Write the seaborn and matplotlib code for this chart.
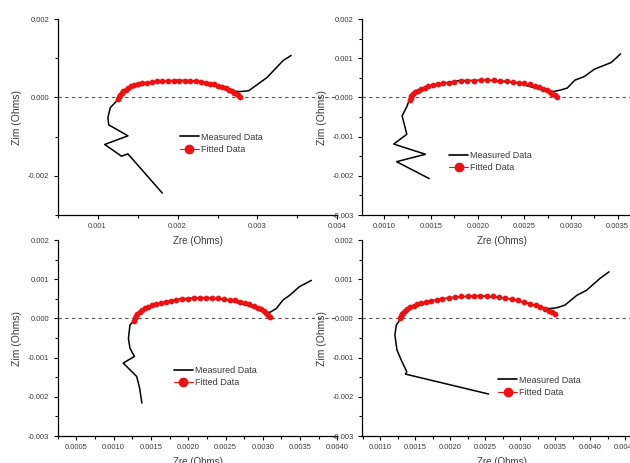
import numpy as np
import pandas as pd
import matplotlib
matplotlib.use("Agg")
import matplotlib.pyplot as plt
from matplotlib.lines import Line2D
from matplotlib.ticker import MultipleLocator, FormatStrFormatter
import seaborn as sns

# values, in units of 1e-3 Ohm
# top left
tl_meas_x = [3.42, 3.32, 3.12, 2.89, 2.79, 2.70, 2.60, 2.45, 2.25, 2.00, 1.75, 1.55,
             1.42, 1.33, 1.27, 1.24, 1.16, 1.13, 1.14, 1.38, 1.09, 1.30, 1.38, 1.81]
tl_meas_y = [1.07, 0.94, 0.51, 0.17, 0.15, 0.16, 0.23, 0.34, 0.42, 0.44, 0.41, 0.34,
             0.26, 0.16, 0.05, -0.09, -0.26, -0.51, -0.70, -0.98, -1.20, -1.50, -1.44, -2.44]
tl_fit_x = [1.26, 1.27, 1.28, 1.30, 1.32, 1.35, 1.38, 1.42, 1.46, 1.51, 1.56, 1.62,
            1.68, 1.74, 1.81, 1.88, 1.95, 2.02, 2.09, 2.16, 2.23, 2.29, 2.35, 2.41,
            2.46, 2.51, 2.56, 2.60, 2.64, 2.68, 2.71, 2.74, 2.76, 2.78]
tl_fit_y = [-0.04, 0.01, 0.06, 0.11, 0.16, 0.20, 0.24, 0.28, 0.31, 0.34, 0.36, 0.38,
            0.40, 0.41, 0.42, 0.43, 0.43, 0.43, 0.43, 0.42, 0.41, 0.39, 0.37, 0.35,
            0.33, 0.30, 0.27, 0.24, 0.20, 0.16, 0.12, 0.08, 0.05, 0.02]

# top right
tr_meas_x = [3.53, 3.43, 3.25, 3.14, 3.04, 2.96, 2.89, 2.81, 2.72, 2.60, 2.40, 2.10,
             1.80, 1.55, 1.40, 1.32, 1.27, 1.24, 1.19, 1.24, 1.10, 1.44, 1.13, 1.48]
tr_meas_y = [1.11, 0.89, 0.72, 0.53, 0.44, 0.24, 0.19, 0.15, 0.17, 0.25, 0.38, 0.44,
             0.43, 0.33, 0.22, 0.10, -0.04, -0.24, -0.47, -0.94, -1.19, -1.45, -1.64, -2.07]
tr_fit_x = [1.27, 1.28, 1.29, 1.31, 1.33, 1.36, 1.39, 1.43, 1.47, 1.52, 1.57, 1.63,
            1.69, 1.75, 1.82, 1.89, 1.96, 2.03, 2.10, 2.17, 2.24, 2.31, 2.38, 2.44,
            2.50, 2.56, 2.61, 2.66, 2.70, 2.74, 2.77, 2.80, 2.83, 2.85]
tr_fit_y = [-0.07, -0.02, 0.03, 0.08, 0.13, 0.17, 0.21, 0.25, 0.28, 0.31, 0.34, 0.36,
            0.38, 0.40, 0.41, 0.42, 0.43, 0.44, 0.44, 0.44, 0.43, 0.42, 0.40, 0.38,
            0.36, 0.33, 0.30, 0.26, 0.22, 0.18, 0.14, 0.10, 0.06, 0.02]

# bottom left
bl_meas_x = [3.65, 3.49, 3.36, 3.27, 3.18, 3.09, 3.00, 2.80, 2.50, 2.20, 1.90, 1.60,
             1.42, 1.32, 1.26, 1.22, 1.20, 1.22, 1.28, 1.13, 1.31, 1.35, 1.38]
bl_meas_y = [0.97, 0.81, 0.59, 0.47, 0.25, 0.15, 0.18, 0.33, 0.48, 0.53, 0.50, 0.37,
             0.25, 0.10, -0.08, -0.17, -0.51, -0.76, -0.97, -1.14, -1.48, -1.78, -2.16]
bl_fit_x = [1.28, 1.29, 1.30, 1.32, 1.35, 1.38, 1.42, 1.46, 1.51, 1.57, 1.63, 1.70,
            1.77, 1.84, 1.92, 2.00, 2.08, 2.16, 2.24, 2.32, 2.40, 2.48, 2.56, 2.63,
            2.70, 2.76, 2.82, 2.88, 2.93, 2.97, 3.01, 3.04, 3.07, 3.09]
bl_fit_y = [-0.06, 0.00, 0.06, 0.11, 0.16, 0.21, 0.26, 0.30, 0.34, 0.37, 0.40, 0.43,
            0.45, 0.47, 0.49, 0.50, 0.51, 0.52, 0.52, 0.52, 0.51, 0.50, 0.48, 0.46,
            0.43, 0.40, 0.36, 0.32, 0.27, 0.23, 0.18, 0.13, 0.08, 0.04]

# bottom right
br_meas_x = [4.27, 4.14, 3.95, 3.81, 3.64, 3.52, 3.42, 3.30, 3.10, 2.80, 2.40, 2.00,
             1.70, 1.48, 1.37, 1.30, 1.28, 1.23, 1.21, 1.24, 1.31, 1.38, 1.36, 2.55]
br_meas_y = [1.19, 1.02, 0.72, 0.59, 0.34, 0.27, 0.25, 0.28, 0.39, 0.52, 0.58, 0.53,
             0.44, 0.33, 0.23, 0.12, -0.04, -0.17, -0.42, -0.81, -1.10, -1.36, -1.42, -1.93]
br_fit_x = [1.29, 1.30, 1.31, 1.33, 1.36, 1.39, 1.43, 1.48, 1.53, 1.59, 1.66, 1.73,
            1.81, 1.89, 1.98, 2.07, 2.16, 2.25, 2.34, 2.43, 2.52, 2.61, 2.70, 2.79,
            2.88, 2.97, 3.06, 3.14, 3.22, 3.29, 3.35, 3.41, 3.46, 3.50]
br_fit_y = [0.00, 0.05, 0.10, 0.15, 0.20, 0.24, 0.28, 0.32, 0.36, 0.39, 0.42, 0.45,
            0.47, 0.50, 0.52, 0.54, 0.56, 0.57, 0.58, 0.58, 0.57, 0.56, 0.54, 0.52,
            0.49, 0.46, 0.42, 0.38, 0.34, 0.29, 0.25, 0.20, 0.16, 0.12]

labels = ["Measured Data", "Fitted Data"]
xlabel = "Zre (Ohms)"
ylabel = "Zim (Ohms)"

sns.set_style("ticks")
plt.rcParams['font.family'] = ['Liberation Sans', 'DejaVu Sans']

RED = '#ee1111'
GREY = '#3a3a3a'

# layout per panel: axes box, x limits, tick steps, formats, legend anchor
panels = [
    (tl_meas_x, tl_meas_y, tl_fit_x, tl_fit_y,
     [0.0913, 0.5356, 0.4444, 0.4233], (0.0005, 0.004), 0.001, 0.0005, '%.3f', 0.002, 0.001, (0.4375, 0.367)),
    (tr_meas_x, tr_meas_y, tr_fit_x, tr_fit_y,
     [0.5746, 0.5356, 0.4444, 0.4233], (0.00076, 0.00376), 0.0005, 0.00025, '%.4f', 0.001, 0.0005, (0.311, 0.273)),
    (bl_meas_x, bl_meas_y, bl_fit_x, bl_fit_y,
     [0.0913, 0.0583, 0.4444, 0.4233], (0.00025, 0.004), 0.0005, 0.00025, '%.4f', 0.001, 0.0005, (0.416, 0.302)),
    (br_meas_x, br_meas_y, br_fit_x, br_fit_y,
     [0.5746, 0.0583, 0.4444, 0.4233], (0.00074, 0.00474), 0.0005, 0.00025, '%.4f', 0.001, 0.0005, (0.486, 0.254)),
]

fig = plt.figure(figsize=(6.3, 4.63), dpi=100)

for mx, my, fx, fy, box, xlim, xmaj, xmin, xfmt, ymaj, ymin, leg in panels:
    ax = fig.add_axes(box)
    ax.set_facecolor('none')  # panels overlap, keep the labels underneath visible
    ax.axhline(0, color='#555555', lw=0.8, ls=(0, (3, 3)), zorder=1)
    meas = pd.DataFrame({'Zre': np.array(mx) * 1e-3, 'Zim': np.array(my) * 1e-3})
    fit = pd.DataFrame({'Zre': np.array(fx) * 1e-3, 'Zim': np.array(fy) * 1e-3})
    sns.lineplot(data=meas, x='Zre', y='Zim', sort=False, estimator=None,
                 color='black', lw=1.1, ax=ax, zorder=2)
    sns.lineplot(data=fit, x='Zre', y='Zim', sort=False, estimator=None,
                 color=RED, lw=0.8, marker='o', markersize=4.2, markeredgewidth=0,
                 ax=ax, zorder=3)
    ax.set_xlim(*xlim)
    ax.set_ylim(-0.003, 0.002)
    ax.xaxis.set_major_locator(MultipleLocator(xmaj))
    ax.xaxis.set_minor_locator(MultipleLocator(xmin))
    ax.yaxis.set_major_locator(MultipleLocator(ymaj))
    ax.yaxis.set_minor_locator(MultipleLocator(ymin))
    ax.xaxis.set_major_formatter(FormatStrFormatter(xfmt))
    ax.yaxis.set_major_formatter(FormatStrFormatter('%.3f'))
    ax.tick_params(which='both', direction='out', width=0.8, colors='black',
                   labelcolor=GREY, labelsize=5.5, pad=3)
    ax.tick_params(which='major', length=3)
    ax.tick_params(which='minor', length=2.5)
    sns.despine(ax=ax)
    for s in ('left', 'bottom'):
        ax.spines[s].set_linewidth(0.9)
        ax.spines[s].set_color('black')
    ax.set_xlabel(xlabel, fontsize=7, color=GREY)
    ax.set_ylabel(ylabel, fontsize=7.5, color=GREY)
    ax.xaxis.set_label_coords(0.5, -0.107)
    ax.yaxis.set_label_coords(-0.126, 0.5)
    handles = [Line2D([], [], color='black', lw=1.2),
               Line2D([], [], color=RED, lw=0.8, marker='o', markersize=6)]
    lg = ax.legend(handles, labels, loc='center left', bbox_to_anchor=leg,
                   frameon=False, fontsize=6.5, handlelength=2.1, handletextpad=0.2,
                   labelspacing=0.35, borderpad=0, borderaxespad=0)
    for t in lg.get_texts():
        t.set_color(GREY)

fig.savefig("out.png", dpi=100)
